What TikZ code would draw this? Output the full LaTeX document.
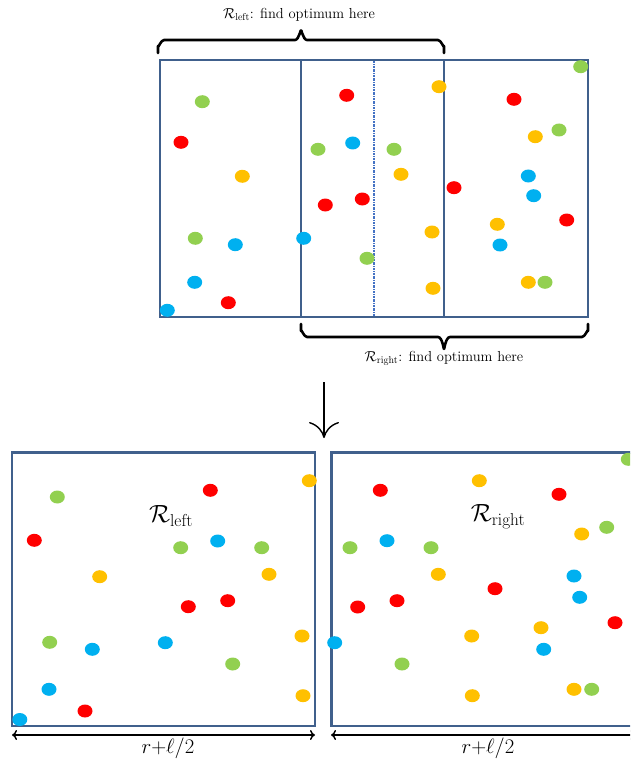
\documentclass[tikz,border=0pt]{standalone}
\usetikzlibrary{arrows.meta}
\definecolor{boxblue}{RGB}{64,96,140}
\definecolor{dred}{RGB}{255,0,0}
\definecolor{dgreen}{RGB}{146,208,80}
\definecolor{dblue}{RGB}{0,176,240}
\definecolor{dorange}{RGB}{255,192,0}
\definecolor{dashblue}{RGB}{68,114,196}
\begin{document}
\begin{tikzpicture}[x=1pt,y=-1pt,
  box/.style={draw=boxblue,line width=2.2pt},
  innerbox/.style={draw=boxblue,line width=2.9pt},
  bottombox/.style={draw=boxblue,line width=2.8pt},
  midline/.style={draw=dashblue,line width=1.3pt,dash pattern=on 2pt off 1pt on 0.6pt off 1pt},
  bracestyle/.style={draw=black,line width=2.6pt,line cap=round,line join=round},
  smalllabel/.style={font=\fontsize{14.5}{17}\selectfont,inner sep=0pt},
  biglabel/.style={font=\fontsize{25}{29}\selectfont,inner sep=0pt},
  widthlabel/.style={font=\fontsize{22.5}{26}\selectfont,inner sep=0pt},
  dimarrow/.style={draw=black,line width=1.4pt},
  dot/.style={fill=#1}
]
\path[use as bounding box] (0,0) rectangle (630,762);
\clip (0,0) rectangle (630,762);

% ---------- top figure ----------
\draw[box] (160,60) rectangle (588,317);
\draw[innerbox] (301,60) rectangle (444,317);
\draw[midline] (374,61) -- (374,316);

% top brace
\coordinate (tb1) at (158,53);
\coordinate (tb2) at (444,53);
\coordinate (ttip) at (301,31);
\draw[bracestyle] (tb1) -- (158,46) to[out=-90,in=180] (164,40) -- (295,40)
  to[out=0,in=90] (ttip) to[out=90,in=180] (307,40) -- (438,40) to[out=0,in=-90] (444,46) -- (tb2);
\node[smalllabel] (toplabel) at (299,15) {$\mathcal{R}_{\mathrm{left}}$: find optimum here};

% bottom brace
\coordinate (bb1) at (301,324);
\coordinate (bb2) at (588,324);
\coordinate (btip) at (444,348);
\draw[bracestyle] (bb1) -- (301,331) to[out=90,in=180] (307,337) -- (438,337)
  to[out=0,in=-90] (btip) to[out=-90,in=180] (450,337) -- (582,337) to[out=0,in=90] (588,331) -- (bb2);
\node[smalllabel] (botlabel) at (444,358) {$\mathcal{R}_{\mathrm{right}}$: find optimum here};

% dots top
\foreach \x/\y in {181/142.3, 228.3/302.7, 346.7/95.3, 325.3/205, 362.3/199, 454/187.7, 514/99.3, 566.7/220}
  \fill[dot=dred] (\x,\y) ellipse [x radius=7.5pt, y radius=6.5pt];
\foreach \x/\y in {202.3/101.7, 195.3/238.3, 318/149.3, 367/258.3, 394/149.3, 580.7/66.7, 559/130, 545/282.3}
  \fill[dot=dgreen] (\x,\y) ellipse [x radius=7.5pt, y radius=6.5pt];
\foreach \x/\y in {235.3/244.7, 194.7/282.3, 167.3/310.3, 303.7/238.3, 352.7/143, 528.3/176, 533.7/195.7, 500/245}
  \fill[dot=dblue] (\x,\y) ellipse [x radius=7.5pt, y radius=6.5pt];
\foreach \x/\y in {242.3/176.3, 401/174.3, 439/86.7, 432/232, 433/288.3, 535.3/136.7, 497.3/224.3, 528.3/282.3}
  \fill[dot=dorange] (\x,\y) ellipse [x radius=7.5pt, y radius=6.5pt];

% ---------- down arrow ----------
\coordinate (d1) at (324,382);
\coordinate (d2) at (324,438);
\draw[line width=1.4pt,-{Computer Modern Rightarrow[length=16pt,width=30pt]}] (d1) -- (d2);

% ---------- bottom left ----------
\draw[bottombox] (12,452.5) rectangle (315,726);
\node[biglabel] (rleft) at (171,516) {$\mathcal{R}_{\mathrm{left}}$};
\coordinate (la1) at (12,735);
\coordinate (la2) at (315,735);
\draw[dimarrow,{Computer Modern Rightarrow[length=5pt,width=10pt]}-{Computer Modern Rightarrow[length=5pt,width=10pt]}] (la1) -- (la2);
\node[widthlabel] (wleft) at (168,748) {$r{+}\ell/2$};

\foreach \x/\y in {210.3/490.3, 34.3/540.3, 188.3/606.7, 227.7/600.7, 85/711}
  \fill[dot=dred] (\x,\y) ellipse [x radius=7.5pt, y radius=6.5pt];
\foreach \x/\y in {57.3/497, 180.7/547.7, 261.7/547.7, 49.7/642.3, 232.7/664}
  \fill[dot=dgreen] (\x,\y) ellipse [x radius=7.5pt, y radius=6.5pt];
\foreach \x/\y in {217.7/541, 92.3/649.3, 165.3/642.7, 49/689.3, 19.8/719.5}
  \fill[dot=dblue] (\x,\y) ellipse [x radius=7.5pt, y radius=6.5pt];
\foreach \x/\y in {309.3/480.7, 99.7/576.7, 269/574.3, 302/636, 303/695.7}
  \fill[dot=dorange] (\x,\y) ellipse [x radius=7.5pt, y radius=6.5pt];

% ---------- bottom right ----------
\draw[bottombox] (331.5,452.5) rectangle (635,726);
\node[biglabel] (rright) at (498,517) {$\mathcal{R}_{\mathrm{right}}$};
\coordinate (ra1) at (331,735);
\coordinate (ra2) at (635,735);
\draw[dimarrow,{Computer Modern Rightarrow[length=5pt,width=10pt]}-{Computer Modern Rightarrow[length=5pt,width=10pt]}] (ra1) -- (ra2);
\node[widthlabel] (wright) at (488,748) {$r{+}\ell/2$};

\foreach \x/\y in {380.3/490.3, 559/494.3, 495/588.7, 357.7/607, 397/600.7, 615/622.7}
  \fill[dot=dred] (\x,\y) ellipse [x radius=7.5pt, y radius=6.5pt];
\foreach \x/\y in {628.3/459.3, 606.7/527.3, 350/547.7, 431/547.7, 402/664, 591.7/689.3}
  \fill[dot=dgreen] (\x,\y) ellipse [x radius=7.5pt, y radius=6.5pt];
\foreach \x/\y in {387/540.7, 574/576, 579.7/597.3, 334.7/642.7, 543.7/649.3}
  \fill[dot=dblue] (\x,\y) ellipse [x radius=7.5pt, y radius=6.5pt];
\foreach \x/\y in {479.3/480.7, 581.7/534, 438.3/574.3, 471.7/636, 541/627.7, 472.3/695.7, 574/689.3}
  \fill[dot=dorange] (\x,\y) ellipse [x radius=7.5pt, y radius=6.5pt];
\end{tikzpicture}
\end{document}
